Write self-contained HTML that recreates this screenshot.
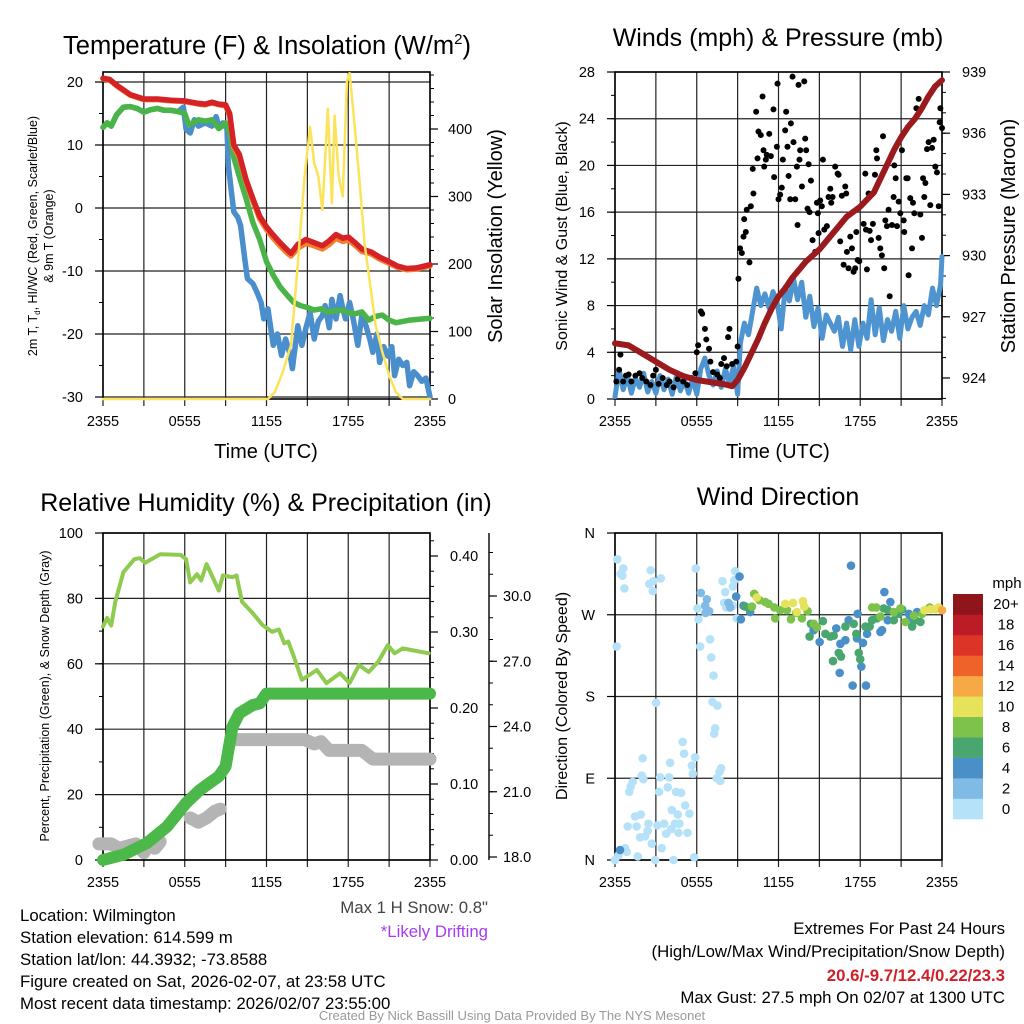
<!DOCTYPE html>
<html><head><meta charset="utf-8">
<style>
html,body{margin:0;padding:0;background:#fff;}
svg{display:block;font-family:"Liberation Sans",sans-serif;}
.n{font-family:"Liberation Sans Narrow","Liberation Sans",sans-serif;}
</style></head>
<body>
<svg id="fig" width="1024" height="1024" viewBox="0 0 1024 1024" xmlns="http://www.w3.org/2000/svg">
<g>
<text x="267" y="54" font-size="25.5" text-anchor="middle">Temperature (F) &amp; Insolation (W/m<tspan font-size="15" dy="-10">2</tspan><tspan dy="10">)</tspan></text>
<text transform="translate(37,236) rotate(-90)" font-size="12.5" text-anchor="middle">2m T, T<tspan font-size="8" dy="3">d</tspan><tspan dy="-3">, HI/WC (Red, Green, Scarlet/Blue)</tspan></text>
<text transform="translate(53,236) rotate(-90)" font-size="12.5" text-anchor="middle">&amp; 9m T (Orange)</text>
<text transform="translate(502,236) rotate(-90)" font-size="20" text-anchor="middle">Solar Insolation (Yellow)</text>
<text x="266" y="458" font-size="20" text-anchor="middle">Time (UTC)</text>
</g>
<g>
<text x="778" y="46" font-size="25" text-anchor="middle">Winds (mph) &amp; Pressure (mb)</text>
<text transform="translate(567,236) rotate(-90)" font-size="16" text-anchor="middle">Sonic Wind &amp; Gust (Blue, Black)</text>
<text transform="translate(1015,236) rotate(-90)" font-size="20" text-anchor="middle">Station Pressure (Maroon)</text>
<text x="778" y="458" font-size="20" text-anchor="middle">Time (UTC)</text>
</g>
<g>
<text x="266" y="511" font-size="25" text-anchor="middle">Relative Humidity (%) &amp; Precipitation (in)</text>
<text transform="translate(49,696) rotate(-90)" font-size="12.5" text-anchor="middle">Percent, Precipitation (Green), &amp; Snow Depth (Gray)</text>
</g>
<g>
<text x="778" y="505" font-size="25" text-anchor="middle">Wind Direction</text>
<text transform="translate(567,696) rotate(-90)" font-size="16" text-anchor="middle">Direction (Colored By Speed)</text>
<text x="1007" y="588" font-size="15" text-anchor="middle">mph</text>
</g>
<g class="n" font-size="16.8">
<text x="20" y="921">Location: Wilmington</text>
<text x="20" y="943">Station elevation: 614.599 m</text>
<text x="20" y="965">Station lat/lon: 44.3932; -73.8588</text>
<text x="20" y="987">Figure created on Sat, 2026-02-07, at 23:58 UTC</text>
<text x="20" y="1009">Most recent data timestamp: 2026/02/07 23:55:00</text>
<text x="488" y="913" text-anchor="end" fill="#444">Max 1 H Snow: 0.8"</text>
<text x="488" y="937" text-anchor="end" fill="#a63cf0">*Likely Drifting</text>
<text x="1005" y="934" text-anchor="end">Extremes For Past 24 Hours</text>
<text x="1005" y="957" text-anchor="end">(High/Low/Max Wind/Precipitation/Snow Depth)</text>
<text x="1005" y="981" text-anchor="end" fill="#d0202a" font-weight="bold">20.6/-9.7/12.4/0.22/23.3</text>
<text x="1005" y="1003" text-anchor="end">Max Gust: 27.5 mph On 02/07 at 1300 UTC</text>
<text x="512" y="1020" text-anchor="middle" font-size="13" fill="#999">Created By Nick Bassill Using Data Provided By The NYS Mesonet</text>
</g>
</svg>
<script>
// ---------- DATA ----------
const timeLabels = ["2355","0555","1155","1755","2355"];
// Panel 1
const redT = [0,0.5,1,2,3,4,5,6,7,7.5,8,8.5,9,9.3,9.6,10,10.5,11,11.5,12,12.5,13,13.5,13.8,14.3,14.9,15.5,16.1,16.6,17.1,17.6,18,18.5,19,19.7,20.3,20.9,21.6,22.3,23,24];
const redV = [20.6,20.4,19.5,18,17.3,17.3,17.1,17,16.6,16.5,16.8,16.5,16.4,15,10,8.5,4.5,1.5,-1.3,-3,-4.3,-5.5,-6.6,-7.2,-5.8,-5,-5.5,-6,-5.2,-4.2,-4.8,-4.6,-5.5,-6.5,-7,-7.8,-8.4,-9.2,-9.6,-9.5,-9];
const orangeV = [20.5,20.3,19.4,17.9,17.2,17.2,17,16.9,16.5,16.4,16.7,16.4,16.2,14.7,9.6,8.1,4.1,1.1,-1.7,-3.4,-4.8,-6,-7.1,-7.6,-6.4,-5.6,-6,-6.5,-5.8,-4.8,-5.3,-5.1,-5.9,-6.9,-7.3,-8.1,-8.7,-9.4,-9.8,-9.7,-9.2];
const greenT = [0,0.3,0.6,1,1.5,2,2.5,3,3.5,4,4.5,5,5.5,6,6.3,6.6,7,7.5,8,8.5,9,9.3,9.6,10,10.5,11,11.5,12,12.5,13,13.5,14,14.5,15,15.5,16,16.5,17,17.5,18,18.5,19,19.5,20,20.5,21,21.5,22,22.5,23,24];
const greenV = [12.8,13.5,13,14.8,16,16.1,15.8,15.2,15.6,15.8,15.5,15.5,15.3,15,13.2,13.5,14,13.8,14,12.6,13.5,12,8,5,1.5,-2.3,-5,-8.5,-10.7,-12.5,-13.8,-15,-15.5,-15.8,-16.2,-16,-16.5,-16.3,-16.2,-16.6,-16.8,-16.5,-17.8,-17.2,-17,-17.8,-18.2,-18,-17.8,-17.7,-17.5];
const blueT = [0,0.3,0.6,1,1.5,2,2.5,3,3.5,4,4.5,5,5.5,5.9,6.1,6.4,6.7,7,7.5,8,8.3,8.5,8.8,9.1,9.2,9.4,9.6,9.9,10.1,10.4,10.6,11,11.3,11.6,11.8,12.1,12.5,12.8,13.1,13.4,13.7,13.9,14.3,14.6,14.9,15.2,15.5,15.8,16.1,16.3,16.6,16.8,17.1,17.4,17.6,17.8,18.1,18.4,18.7,19,19.3,19.6,19.8,20.1,20.3,20.6,20.9,21.2,21.4,21.7,22,22.3,22.5,22.8,23.1,23.4,23.7,24];
const blueV = [12.8,13.5,13,14.8,16,16.1,15.8,15.2,15.6,15.8,15.5,15.5,15.3,16,12.5,11.9,14,13,13.5,13,14.5,12.9,13.5,12.6,6.8,3,-0.6,-1.5,-2.8,-8,-11.2,-12,-13.4,-15,-17.6,-16,-21.8,-20,-23.4,-20.8,-23,-25.5,-18.7,-21.8,-19,-16.6,-20.8,-18,-17.1,-15.5,-19,-14.5,-17.6,-13.9,-16,-17.6,-15,-18,-21.8,-17,-18.7,-21,-22.9,-20,-24.5,-22,-23.5,-22,-26.6,-24,-25,-24.5,-28.2,-26,-26.6,-27.5,-27,-30];
const solarT = [0,12.1,12.6,13.2,13.8,14.3,14.8,15.2,15.5,15.8,16.1,16.5,16.8,17.0,17.3,17.6,17.9,18.1,18.4,18.8,19.2,19.6,20,20.5,21,21.5,22,24];
const solarV = [0,0,10,40,80,200,330,403,350,330,280,430,290,420,330,300,470,483,420,330,230,170,110,70,35,10,0,0];
const tempTicks = [-30,-20,-10,0,10,20];
const solarTicks = [0,100,200,300,400];
// Panel 2
const windT = [0,0.3,0.6,0.9,1.2,1.5,1.8,2.1,2.4,2.7,3,3.3,3.6,3.9,4.2,4.5,4.8,5.1,5.4,5.7,6.0,6.3,6.6,6.9,7.2,7.5,7.8,8.1,8.4,8.7,9.0,9.2,9.5,9.8,10.1,10.4,10.7,11,11.3,11.6,11.9,12.2,12.5,12.8,13.1,13.4,13.7,14,14.3,14.6,14.9,15.2,15.5,15.8,16.1,16.4,16.7,17,17.3,17.6,17.9,18.2,18.5,18.8,19.1,19.4,19.7,20,20.3,20.6,20.9,21.2,21.5,21.8,22.1,22.4,22.7,23,23.3,23.6,23.9,24];
const windV = [0.2,2.5,0.8,2,0.5,1.8,1,2.2,0.6,1.5,0.5,2,0.8,1.7,0.4,1.9,0.7,1.6,0.5,1.8,0.4,2.6,3.5,2,1.2,2.4,1,2.6,1.3,2.8,0.4,4.8,6.5,5.5,7.5,9.5,8,9,7.8,9.2,8.3,6,9.6,8.4,10.3,8.5,10,7,8.8,6.2,7.8,5.2,7.2,6.5,5.8,7,4.5,6.5,4.2,6.8,4.5,6.5,5.2,8.5,5.5,7.8,5,6.8,5.8,7.5,5.2,8,6,7,7.5,6.3,8,7.2,9.5,8,9.8,12.2];
const gustT = [0.1,0.3,0.4,0.6,0.8,1,1.2,1.5,1.8,2,2.3,2.6,2.8,3,3.2,3.5,3.8,4,4.3,4.6,5,5.3,5.6,5.9,6.0,6.1,6.3,6.4,6.6,6.7,6.9,7.0,7.2,7.5,7.7,7.8,8.0,8.2,8.3,8.4,8.6,8.9,9.0,
9.06,9.18,9.31,9.43,9.6,9.48,9.67,9.87,9.97,10.16,10.11,10.46,10.36,10.53,10.7,10.83,10.9,10.95,11.07,11.14,11.32,11.44,11.63,11.68,11.88,11.93,12.0,12.12,12.24,12.32,12.49,12.56,12.66,12.74,12.86,12.91,13.03,13.1,13.23,13.35,13.4,13.47,13.54,13.59,13.72,13.89,13.96,14.03,14.13,14.21,14.28,14.38,14.5,14.7,14.82,14.89,14.94,15.06,15.18,15.26,15.36,15.55,15.67,15.8,15.87,15.97,16.16,16.34,16.41,16.53,16.65,16.78,16.9,16.97,17.02,17.14,17.27,17.39,17.51,17.63,17.71,17.81,17.93,18.25,18.37,18.42,18.49,18.61,18.69,18.79,18.93,19.08,19.18,19.23,19.35,19.47,19.59,19.67,19.76,19.84,19.96,20.08,20.16,20.33,20.45,20.5,20.6,20.7,20.82,20.94,21.06,21.19,21.23,21.38,21.48,21.55,21.67,21.8,21.87,21.97,22.12,22.29,22.41,22.53,22.61,22.7,22.78,22.9,23.02,23.14,23.27,23.39,23.51,23.63,23.76,23.83,23.88,24.0];
const gustV = [1.5,2.5,3.8,1.5,2,2.1,1.5,2,2.2,1.8,1.5,1.2,2,2.5,1.3,1.8,1.2,1.5,1,1.7,1.5,1.2,1.8,2.2,4,4.6,7.5,7.3,6.0,5.1,4.3,3.2,2.3,2.1,1.8,3.0,3.5,2.8,5.3,6.0,3.0,3.2,4.5,
10.3,12.9,12.5,13.9,14.3,15.4,16.2,11.7,16.5,17.6,19.7,20.6,24.6,22.9,22.6,25.9,21.3,19.9,20.5,20.9,22.7,20.8,24.8,19.0,21.6,27.0,17.1,17.5,18.1,20.5,23.0,24.6,21.6,19.1,17.1,23.6,27.6,22.0,17.1,19.9,14.9,26.9,20.5,21.3,18.2,27.2,22.3,21.3,16.3,20.1,16.0,18.7,13.6,12.6,16.8,15.9,14.2,17.0,16.5,20.5,14.5,14.8,17.3,18.0,16.8,17.3,19.9,19.3,19.2,13.5,17.4,11.5,18.2,17.6,12.6,11.2,13.9,12.9,10.9,11.2,14.3,11.9,11.8,15.0,19.3,14.5,11.1,17.6,14.4,13.6,15.0,19.2,21.3,20.6,13.8,12.9,12.3,22.5,11.2,15.3,14.8,16.2,8.8,14.9,17.3,20.0,18.9,14.8,16.9,15.9,21.3,15.3,14.3,18.9,18.9,10.6,17.2,12.9,16.8,15.9,24.9,25.7,15.8,13.8,18.9,17.3,18.5,21.4,22.0,16.6,21.5,22.2,19.9,19.4,16.5,23.7,24.9,23.2];
const presT = [0,1,2,3,4,5,6,7,8,8.6,9,9.5,10,10.5,11,11.5,12,12.5,13,13.5,14,15,16,17,18,19,19.5,20,20.5,21,21.5,22,22.5,23,23.5,24];
const presV = [925.7,925.6,925.2,924.8,924.4,924.1,923.9,923.8,923.7,923.6,923.9,924.5,925.2,925.9,926.7,927.4,928.0,928.4,928.9,929.3,929.7,930.3,931.1,931.9,932.4,933.1,933.8,934.5,935.2,935.8,936.3,936.7,937.2,937.8,938.3,938.6];
const windTicks = [0,4,8,12,16,20,24,28];
const presTicks = [924,927,930,933,936,939];
// Panel 3
const rhT = [0,0.3,0.6,0.9,1.5,2.3,2.7,3.1,4.2,5.7,6.1,6.4,6.9,7.2,7.6,8.5,8.8,9.5,9.8,10.2,11,11.7,12.4,12.9,13.3,13.6,14,14.6,15.7,16.4,17.4,18.1,18.8,19.5,20.2,20.9,21.4,22,23.9];
const rhV = [71.4,74,71.7,79,88,92,92.3,90.9,93.5,93.3,92,84.9,87.4,85.5,90.5,82.4,87,86.5,87,79,75.4,71.9,69.8,70.5,66.3,66.8,62.2,55.1,58.1,54.1,57.1,54.1,59.6,57.5,60.6,65.7,63.2,64.7,63.2];
const precipT = [0,1.5,3.2,4.7,6.1,7.1,8.5,9.0,9.5,10.0,11.0,11.5,12.0,24];
const precipV = [0,0.007,0.022,0.044,0.075,0.092,0.11,0.123,0.175,0.193,0.204,0.206,0.219,0.219];
const snowSeg1T = [-0.3,0.6,1.2,1.8,2.4,3,3.4,3.8,4.2];
const snowSeg1V = [18.6,18.6,18.4,18.5,18.6,18.2,18.6,18.4,18.7];
const snowSeg2T = [6.4,7.0,7.6,8.2,8.6];
const snowSeg2V = [19.8,19.6,19.8,20.1,20.2];
const snowSeg3T = [9.8,12,14.8,15.5,16,16.6,19,19.8,24];
const snowSeg3V = [23.4,23.4,23.4,23.2,23.3,22.9,22.9,22.5,22.5];
const rhTicks = [0,20,40,60,80,100];
const precipTicks = [0.00,0.10,0.20,0.30,0.40];
const snowTicks = [18.0,21.0,24.0,27.0,30.0];
// Panel 4
const dirT = [0.17,0.61,0.42,0.54,0.69,2.62,2.52,2.82,2.77,3.36,5.93,0.12,3.01,4.97,5.07,2.03,4.04,5.88,5.64,5.71,1.96,2.08,3.31,3.97,1.30,1.15,1.05,3.23,3.87,4.48,4.85,5.15,4.17,4.61,5.46,1.47,1.89,2.45,0.93,1.59,3.11,3.60,4.12,4.41,4.73,3.75,4.66,5.32,2.40,1.84,2.21,2.70,3.43,0.74,0.86,0.25,0,1.67,2.94,4.29,5.81,6.25,6.98,7.06,7.23,7.15,7.52,7.35,7.28,7.79,7.67,7.47,7.72,7.89,8.09,8.65,8.82,8.75,8.01,8.16,8.65,6.05,6.13,8.94,
6.30,6.74,6.62,6.91,6.64,8.33,8.45,
0.37,9.14,8.89,9.24,9.43,9.92,17.32,19.77,20.21,17.81,17.15,14.58,15.02,16.54,16.91,17.76,18.20,16.24,16.49,17.44,18.42,18.08,18.50,19.48,19.60,20.02,21.56,22.17,21.68,
9.56,9.85,14.38,14.28,15.26,15.44,15.80,16.05,16.0,16.42,16.59,16.91,17.52,17.71,17.89,18.0,18.38,18.69,18.87,19.23,19.72,20.02,20.46,20.83,21.07,21.81,22.05,22.42,
10.22,10.05,10.61,11.03,11.27,11.69,11.76,12.13,12.62,12.91,13.30,13.72,14.14,14.58,14.82,18.87,19.18,19.48,20.46,20.95,21.32,21.93,22.54,23.10,
10.41,12.50,13.06,13.35,13.79,13.89,22.71,23.15,23.52,23.76,
24.0];
const dirDeg = [331,321,315,313,299,319,304,307,296,310,321,235,173,130,117,112,107,113,104,95,93,89,91,91,86,81,75,75,80,75,74,60,55,50,51,48,50,40,37,37,38,40,34,40,40,29,30,30,32,25,26,18,13,13,9,5,0,4,0,0,3,235,243,223,203,174,170,145,139,101,97,90,87,307,295,301,318,308,283,278,280,277,265,266,
294,287,280,274,272,283,278,
11,312,290,265,280,273,324,295,284,271,264,253,240,238,242,244,239,255,206,192,192,213,249,251,253,264,271,273,266,
279,277,260,246,263,249,246,247,219,228,224,257,260,249,228,221,257,257,264,266,277,275,264,271,276,257,264,262,
293,279,286,284,282,278,266,275,275,265,272,266,274,260,256,278,278,268,273,277,262,269,271,278,
289,282,283,273,285,279,275,276,276,278,
275];
const dirSpeed = [1,1,1,1,1,1,1,1,1,1,1,1,1,1,1,1,1,1,1,1,1,1,1,1,1,1,1,1,1,1,1,1,1,1,1,1,1,1,1,1,1,1,1,1,1,1,1,1,1,1,1,1,1,1,1,1,1,1,1,1,1,1,1,1,1,1,1,1,1,1,1,1,1,1,1,1,1,1,1,1,1,1,1,1,
2.5,2.5,2.5,2.5,2.5,2.5,2.5,
4,4,4,4,4,4,4,4,4,4,4,4,4,4,4,4,4,4,4,4,4,4,4,4,4,4,4,4,4,
6,6,6,6,6,6,6,6,6,6,6,6,6,6,6,6,6,6,6,6,6,6,6,6,6,6,6,6,
8,8,8,8,8,8,8,8,8,8,8,8,8,8,8,8,8,8,8,8,8,8,8,8,
10,10,10,10,10,10,10,10,10,10,
12.4];
const dirTicks = [0,90,180,270,360];
const dirTickLabels = ["N","E","S","W","N"];
const cbLabels = ["0","2","4","6","8","10","12","14","16","18","20+"];
const cbColors = ["#b5e2f8","#7fbbe5","#4a8fc7","#49a66f","#7cc24b","#e6e259","#f6aa46","#ef632b","#dd3428","#bb1c25","#8e1519"];

// ---------- HELPERS ----------
const NS = "http://www.w3.org/2000/svg";
const svg = document.getElementById("fig");
function el(tag, attrs, parent){ const e=document.createElementNS(NS,tag); for(const k in attrs) e.setAttribute(k,attrs[k]); (parent||svg).appendChild(e); return e; }
function pathD(ts, vs, fx, fy){ return ts.map((t,i)=>(i?"L":"M")+fx(t).toFixed(1)+","+fy(vs[i]).toFixed(1)).join(""); }
function xScale(x0,x1){ return t=> x0 + t/24*(x1-x0); }
function linScale(v0,v1,p0,p1){ return v=> p0 + (v-v0)/(v1-v0)*(p1-p0); }

function frame(g, x0,x1,y0,y1, xs, hLines){
  for(let h=0;h<=24;h+=3){
    const x = xs(h);
    const ln = el("line",{x1:x,x2:x,y1:y0,y2:y1+7,stroke:"#222","stroke-width":1.2},g);
    
    
  }
  hLines.forEach(y=>{
    const ln = el("line",{x1:x0,x2:x1,y1:y,y2:y,stroke:"#222","stroke-width":1.2},g);
    
    
  });
  const r = el("rect",{x:x0,y:y0,width:x1-x0,height:y1-y0,fill:"none",stroke:"#000","stroke-width":1.6},g);
  
  
  timeLabels.forEach((lab,i)=>{
    const tx = el("text",{x:xs(i*6),y:y1+27,"font-size":14.5,"text-anchor":"middle"},g);
    tx.textContent = lab;
    
    
  });
}
function yAxis(g, x, side, ticks, labels, fy, minorStep, v0, v1, labelDx){
  const dir = side==="left"?-1:1;
  ticks.forEach((v,i)=>{
    const y=fy(v);
    const tk = el("line",{x1:x,x2:x+dir*8,y1:y,y2:y,stroke:"#000","stroke-width":1.2},g);
    
    
    const tx = el("text",{x:x+dir*(labelDx),y:y+5,"font-size":14.5,"text-anchor":side==="left"?"end":"start"},g);
    tx.textContent = labels[i];
    
    
  });
  if(minorStep){
    for(let v=v0; v<=v1+1e-9; v+=minorStep){
      const y=fy(v);
      const tk = el("line",{x1:x,x2:x+dir*4,y1:y,y2:y,stroke:"#000","stroke-width":1},g);
      
      
    }
  }
}
function series(g, ts, vs, fx, fy, color, w, name){
  const p = el("path",{d:pathD(ts,vs,fx,fy),fill:"none",stroke:color,"stroke-width":w,"stroke-linejoin":"round","stroke-linecap":"round"},g);
  
  
  return p;
}

// ---------- PANEL 1 ----------
(function(){
  const g = el("g",{});
  
  
  const x0=103,x1=430,y0=72,y1=399;
  const X = xScale(x0,x1);
  const Y = linScale(-30,20,397,82);
  const YR = linScale(0,400,399,129);
  frame(g,x0,x1,y0,y1,X,tempTicks.map(Y));
  yAxis(g,x0,"left",tempTicks,tempTicks.map(String),Y,5,-30,20,20);
  yAxis(g,x1,"right",solarTicks,solarTicks.map(String),YR,20,0,480,18);
  const clip = el("clipPath",{id:"c1"},g); el("rect",{x:x0-4,y:y0,width:x1-x0+8,height:y1-y0+2},clip);
  const sg = el("g",{"clip-path":"url(#c1)"},g);
  series(sg,blueT,blueV,X,Y,"#4a8fcb",5.5,"windchill-line-blue");
  series(sg,greenT,greenV,X,Y,"#4ab449",5.5,"dewpoint-line-green");
  series(sg,redT,orangeV,X,Y,"#f47d2e",5.5,"9m-temperature-line-orange");
  series(sg,redT,redV,X,Y,"#d42227",5.5,"temperature-line-red");
  series(sg,solarT,solarV,X,YR,"#fbe35a",2.5,"solar-insolation-line-yellow");
})();

// ---------- PANEL 2 ----------
(function(){
  const g = el("g",{});
  
  
  const x0=615,x1=942,y0=72,y1=399;
  const X = xScale(x0,x1);
  const Y = linScale(0,28,399,72);
  const P = linScale(924,939,378,72);
  frame(g,x0,x1,y0,y1,X,windTicks.map(Y));
  yAxis(g,x0,"left",windTicks,windTicks.map(String),Y,2,0,28,20);
  yAxis(g,x1,"right",presTicks,presTicks.map(String),P,1,923,939,20);
  const clip = el("clipPath",{id:"c2"},g); el("rect",{x:x0-4,y:y0,width:x1-x0+8,height:y1-y0+2},clip);
  const sg = el("g",{"clip-path":"url(#c2)"},g);
  series(sg,windT,windV,X,Y,"#4d94d0",5,"sonic-wind-line-blue");
  gustT.forEach((t,i)=>{
    const c = el("circle",{cx:X(t),cy:Y(gustV[i]),r:3,fill:"#000"},sg);
    
    
  });
  series(sg,presT,presV,X,P,"#9b1a1d",6,"pressure-line-maroon");
})();

// ---------- PANEL 3 ----------
(function(){
  const g = el("g",{});
  
  
  const x0=103,x1=430,y0=533,y1=860;
  const X = xScale(x0,x1);
  const Y = linScale(0,100,860,533);
  const PR = linScale(0,0.4,860,556);
  const SN = linScale(18,30,857,596);
  frame(g,x0,x1,y0,y1,X,rhTicks.map(Y));
  yAxis(g,x0,"left",rhTicks,rhTicks.map(String),Y,10,0,100,20);
  yAxis(g,x1,"right",precipTicks,precipTicks.map(v=>v.toFixed(2)),PR,0.02,0,0.42,20);
  const ax = el("line",{x1:489,x2:489,y1:533,y2:860,stroke:"#000","stroke-width":1.4},g);
  
  
  yAxis(g,489,"right",snowTicks,snowTicks.map(v=>v.toFixed(1)),SN,1,18,32,14);
  series(g,snowSeg1T,snowSeg1V,X,SN,"#b4b4b4",13,"snow-depth-line-gray");
  series(g,snowSeg2T,snowSeg2V,X,SN,"#b4b4b4",13,"snow-depth-line-gray");
  series(g,snowSeg3T,snowSeg3V,X,SN,"#b4b4b4",13,"snow-depth-line-gray");
  series(g,precipT,precipV,X,PR,"#4cb849",12,"precipitation-line-green");
  series(g,rhT,rhV,X,Y,"#8ecb4f",4,"relative-humidity-line");
})();

// ---------- PANEL 4 ----------
(function(){
  const g = el("g",{});
  
  
  const x0=615,x1=942,y0=533,y1=860;
  const X = xScale(x0,x1);
  const D = linScale(0,360,860,533);
  frame(g,x0,x1,y0,y1,X,dirTicks.map(D));
  yAxis(g,x0,"left",dirTicks,dirTickLabels,D,0,0,0,20);
  dirT.forEach((t,i)=>{
    const idx = Math.min(10,Math.max(0,Math.floor(dirSpeed[i]/2)));
    const c = el("circle",{cx:X(t),cy:D(dirDeg[i]),r:4.3,fill:cbColors[idx]},g);
    
    
  });
  const bh = (819-594)/cbLabels.length;
  cbLabels.forEach((lab,i)=>{
    const y = 819 - (i+1)*bh;
    const r = el("rect",{x:953,y:y,width:30,height:bh+0.3,fill:cbColors[i]},g);
    
    
    const tx = el("text",{x:1006,y:y+bh/2+5,"font-size":15,"text-anchor":"middle"},g);
    tx.textContent = lab;
    
    
  });
})();
</script>
</body></html>
